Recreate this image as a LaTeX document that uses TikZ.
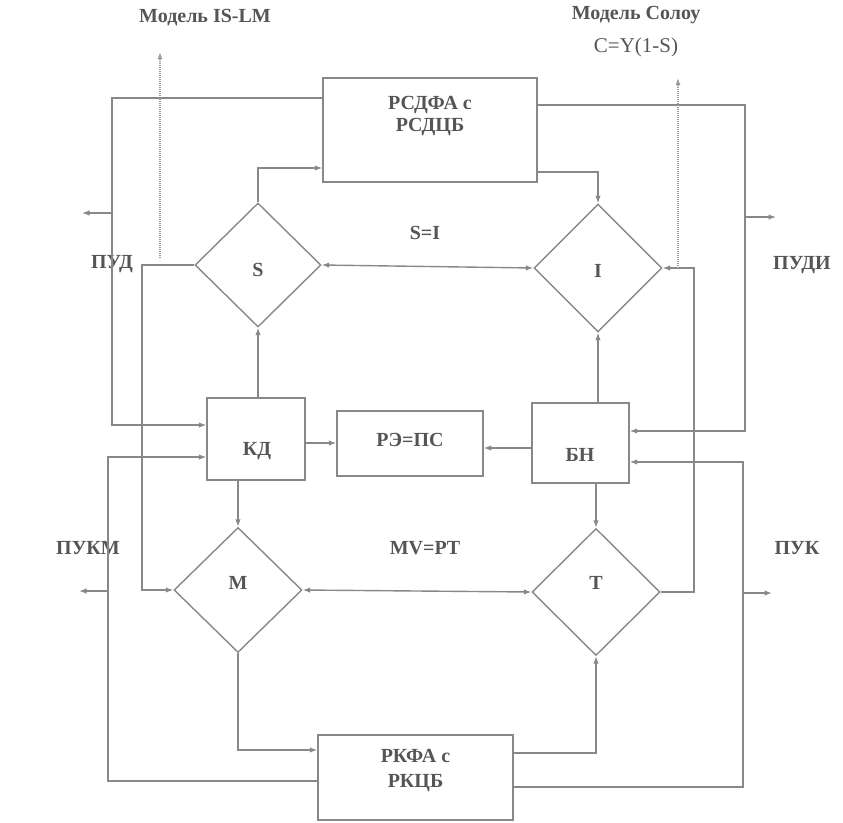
\documentclass[tikz,border=0pt]{standalone}
\usepackage{fontspec}
\setmainfont{Liberation Serif}
\usetikzlibrary{shapes.geometric,arrows.meta}
\definecolor{ln}{HTML}{888888}
\definecolor{tx}{HTML}{555555}
\definecolor{dt}{HTML}{9C9C9C}
\tikzset{
  box/.style={draw=ln,line width=1.4pt,rectangle,inner sep=0pt},
  dia/.style={draw=ln,line width=1.4pt,diamond,inner sep=0pt},
  txt/.style={text=tx,font=\fontsize{20}{22}\selectfont\bfseries,inner sep=0pt,align=center},
  con/.style={draw=ln,line width=1.4pt},
  arr/.style={con,-{Latex[length=7.5pt,width=5.5pt]}},
  darr/.style={con,{Latex[length=7.5pt,width=5.5pt]}-{Latex[length=7.5pt,width=5.5pt]}},
  dotarr/.style={draw=dt,line width=1.2pt,dash pattern=on 1pt off 1pt,-{Latex[length=7pt,width=5pt]}}
}
\begin{document}
\begin{tikzpicture}[x=1pt,y=-1pt]
\useasboundingbox (0,0) rectangle (843,822);
% nodes
\node[box,minimum width=214pt,minimum height=104pt] (rsd) at (430,130) {};
\node[txt] (rsdt) at (430,116) {РСДФА с\\РСДЦБ};
\node[dia,minimum width=126pt,minimum height=124pt] (S) at (258,265) {};
\node[txt] (St) at (258,270) {S};
\node[dia,minimum width=128pt,minimum height=128pt] (I) at (598,268) {};
\node[txt] (It) at (598,271) {I};
\node[box,minimum width=98pt,minimum height=82pt] (KD) at (256,439) {};
\node[txt] (KDt) at (257,451) {КД};
\node[box,minimum width=146pt,minimum height=65pt] (RE) at (410,443.5) {};
\node[txt] (REt) at (410,440) {РЭ=ПС};
\node[box,minimum width=97pt,minimum height=80pt] (BN) at (580.5,443) {};
\node[txt] (BNt) at (580,455) {БН};
\node[dia,minimum width=128pt,minimum height=125pt] (M) at (238,590) {};
\node[txt] (Mt) at (238,583) {M};
\node[dia,minimum width=128pt,minimum height=127pt] (T) at (596,592) {};
\node[txt] (Tt) at (596,583) {T};
\node[box,minimum width=195pt,minimum height=85pt] (rkf) at (415.5,777.5) {};
\node[txt,font=\fontsize{20}{25}\selectfont\bfseries] (rkft) at (415.5,771) {РКФА с\\РКЦБ};
% labels
\node[txt] (islm) at (205,18) {Модель IS-LM};
\node[txt] (solow) at (636,15) {Модель Солоу};
\node[txt,font=\fontsize{21}{23}\selectfont] (cy) at (636,47) {C=Y(1-S)};
\node[txt] (si) at (425,233) {S=I};
\node[txt] (mv) at (425,548) {MV=PT};
\node[txt] (pud) at (112,264) {ПУД};
\node[txt] (pudi) at (802,265) {ПУДИ};
\node[txt] (pukm) at (88,548) {ПУКМ};
\node[txt] (puk) at (797,548) {ПУК};
% free-end coordinates
\coordinate (islmA) at (160,258);
\coordinate (islmB) at (160,52);
\coordinate (solA) at (678,268);
\coordinate (solB) at (678,78);
\coordinate (pudA) at (112,213);
\coordinate (pudB) at (82,213);
\coordinate (pudiA) at (745,217);
\coordinate (pudiB) at (776,217);
\coordinate (pukmA) at (108,591);
\coordinate (pukmB) at (79,591);
\coordinate (pukA) at (743,593);
\coordinate (pukB) at (772,593);
% connectors
\draw[arr] (rsd.west |- 0,98) -- (112,98) -- (112,425) -- (KD.west |- 0,425);
\draw[arr] (S.north) -- (258,168) -- (rsd.west |- 0,168);
\draw[arr] (rsd.east |- 0,172) -- (598,172) -- (I.north);
\draw[arr] (rsd.east |- 0,105) -- (745,105) -- (745,431) -- (BN.east |- 0,431);
\draw[darr] (I.west) -- (S.east);
\draw[arr] (S.west) -- (142,265) -- (142,590) -- (M.west);
\draw[arr] (KD.north -| S.south) -- (S.south);
\draw[arr] (KD.east |- 0,443) -- (RE.west |- 0,443);
\draw[arr] (BN.west |- 0,448) -- (RE.east |- 0,448);
\draw[arr] (BN.north -| I.south) -- (I.south);
\draw[arr] (T.east) -- (694,592) -- (694,268) -- (I.east);
\draw[arr] (KD.south -| M.north) -- (M.north);
\draw[arr] (BN.south -| T.north) -- (T.north);
\draw[darr] (M.east) -- (T.west);
\draw[arr] (M.south) -- (238,750) -- (rkf.west |- 0,750);
\draw[arr] (rkf.east |- 0,753) -- (596,753) -- (T.south);
\draw[arr] (rkf.east |- 0,787) -- (743,787) -- (743,462) -- (BN.east |- 0,462);
\draw[arr] (rkf.west |- 0,781) -- (108,781) -- (108,457) -- (KD.west |- 0,457);
\draw[dotarr] (islmA) -- (islmB);
\draw[dotarr] (solA) -- (solB);
\draw[arr] (pudA) -- (pudB);
\draw[arr] (pudiA) -- (pudiB);
\draw[arr] (pukmA) -- (pukmB);
\draw[arr] (pukA) -- (pukB);
\end{tikzpicture}
\end{document}
